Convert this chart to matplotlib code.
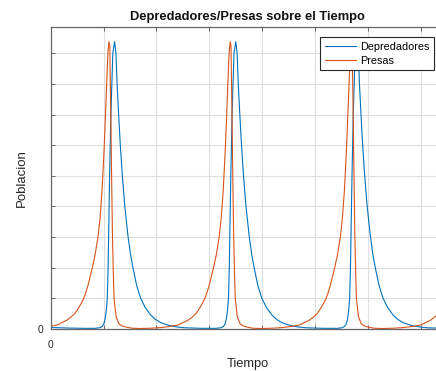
import matplotlib
matplotlib.use('Agg')
import matplotlib.pyplot as plt

plt.rcParams['font.family'] = ['Liberation Sans', 'DejaVu Sans']

# presas (orange)
t_presas = [0.000, 0.119, 0.308, 0.384, 0.459, 0.535, 0.611, 0.658, 0.705, 0.781,
            0.837, 0.894, 0.932, 0.970, 1.008, 1.036, 1.064, 1.083, 1.102, 1.117,
            1.136, 1.151, 1.168, 1.181, 1.197, 1.238, 1.291, 1.348, 1.442, 1.537,
            1.688, 1.877,
            2.070, 2.221, 2.410, 2.599, 2.675, 2.750, 2.826, 2.902, 2.949, 2.996,
            3.072, 3.129, 3.185, 3.223, 3.261, 3.299, 3.327, 3.355, 3.374, 3.393,
            3.408, 3.427, 3.442, 3.459, 3.473, 3.488, 3.529, 3.582, 3.639, 3.733,
            3.828, 3.979, 4.168,
            4.361, 4.512, 4.701, 4.890, 4.966, 5.042, 5.117, 5.193, 5.240, 5.287,
            5.363, 5.420, 5.476, 5.514, 5.552, 5.590, 5.618, 5.647, 5.665, 5.684,
            5.699, 5.718, 5.734, 5.750, 5.764, 5.779, 5.820, 5.873, 5.930, 6.025,
            6.119, 6.270, 6.459,
            6.652, 6.803, 6.992, 7.181, 7.257, 7.333, 7.408]
presas = [0.08, 0.12, 0.28, 0.38, 0.5, 0.7, 0.94, 1.15, 1.42, 1.95,
          2.4, 3.0, 3.6, 4.5, 5.8, 7.0, 8.3, 9.05, 9.38, 9.25,
          7.0, 5.0, 3.0, 2.0, 1.0, 0.38, 0.16, 0.09, 0.045, 0.015,
          0.006, 0.015,
          0.035, 0.065, 0.12, 0.28, 0.38, 0.5, 0.7, 0.94, 1.15, 1.42,
          1.95, 2.4, 3.0, 3.6, 4.5, 5.8, 7.0, 8.3, 9.05, 9.38,
          9.25, 7.0, 5.0, 3.0, 2.0, 1.0, 0.38, 0.16, 0.09, 0.045,
          0.015, 0.006, 0.015,
          0.035, 0.065, 0.12, 0.28, 0.38, 0.5, 0.7, 0.94, 1.15, 1.42,
          1.95, 2.4, 3.0, 3.6, 4.5, 5.8, 7.0, 8.3, 9.05, 9.38,
          9.25, 7.0, 5.0, 3.0, 2.0, 1.0, 0.38, 0.16, 0.09, 0.045,
          0.015, 0.006, 0.015,
          0.035, 0.065, 0.12, 0.28, 0.38, 0.5, 0.7]

# depredadores (blue)
t_depred = [0.000, 0.357, 0.641, 0.830, 0.924, 0.972, 1.000, 1.028, 1.051, 1.070,
            1.085, 1.095, 1.113, 1.138, 1.174, 1.208, 1.233, 1.255, 1.284, 1.316,
            1.354, 1.401, 1.463, 1.507, 1.554, 1.624, 1.699, 1.784, 1.888, 1.983,
            2.078, 2.191, 2.304, 2.418, 2.550, 2.853,
            3.121, 3.216, 3.263, 3.291, 3.319, 3.342, 3.361, 3.376, 3.386, 3.405,
            3.429, 3.465, 3.499, 3.524, 3.546, 3.575, 3.607, 3.645, 3.692, 3.754,
            3.798, 3.845, 3.915, 3.991, 4.076, 4.180, 4.274, 4.369, 4.482, 4.595,
            4.709, 4.841, 5.144,
            5.412, 5.507, 5.554, 5.582, 5.611, 5.633, 5.652, 5.667, 5.677, 5.696,
            5.720, 5.756, 5.790, 5.815, 5.837, 5.866, 5.898, 5.936, 5.983, 6.045,
            6.089, 6.136, 6.206, 6.282, 6.367, 6.471, 6.565, 6.660, 6.773, 6.887,
            7.000, 7.132, 7.435]
depred = [0.04, 0.02, 0.012, 0.012, 0.03, 0.07, 0.14, 0.3, 0.6, 1.0,
          2.0, 3.0, 5.0, 7.0, 9.0, 9.38, 9.0, 8.0, 7.0, 6.0,
          5.0, 4.0, 3.0, 2.45, 2.0, 1.42, 1.0, 0.7, 0.45, 0.3,
          0.2, 0.13, 0.08, 0.05, 0.03, 0.013,
          0.012, 0.03, 0.07, 0.14, 0.3, 0.6, 1.0, 2.0, 3.0, 5.0,
          7.0, 9.0, 9.38, 9.0, 8.0, 7.0, 6.0, 5.0, 4.0, 3.0,
          2.45, 2.0, 1.42, 1.0, 0.7, 0.45, 0.3, 0.2, 0.13, 0.08,
          0.05, 0.03, 0.013,
          0.012, 0.03, 0.07, 0.14, 0.3, 0.6, 1.0, 2.0, 3.0, 5.0,
          7.0, 9.0, 9.38, 9.0, 8.0, 7.0, 6.0, 5.0, 4.0, 3.0,
          2.45, 2.0, 1.42, 1.0, 0.7, 0.45, 0.3, 0.2, 0.13, 0.08,
          0.05, 0.03, 0.013]

x_ticks = [0, 1, 2, 3, 4, 5, 6, 7]
x_labels = ['0', '', '', '', '', '', '', '']
y_ticks = [0, 1, 2, 3, 4, 5, 6, 7, 8, 9]
y_labels = ['0', '', '', '', '', '', '', '', '', '']

fig = plt.figure(figsize=(4.36, 3.71), dpi=100)
ax = fig.add_axes([0.1163, 0.114, 0.902, 0.814])

ax.plot(t_depred, depred, color='#0072BD', lw=0.8, label='Depredadores')
ax.plot(t_presas, presas, color='#D95319', lw=0.8, label='Presas')

ax.set_xlim(0, 7.435)
ax.set_ylim(0, 9.869)
ax.set_xticks(x_ticks)
ax.set_xticklabels(x_labels)
ax.set_yticks(y_ticks)
ax.set_yticklabels(y_labels)
ax.tick_params(direction='in', top=True, right=True, length=3, width=0.6,
               color='#555555', labelsize=7.5, labelcolor='#262626')
ax.tick_params(axis='x', pad=8)
ax.tick_params(axis='y', pad=5)
for s in ax.spines.values():
    s.set_color('#666666')
    s.set_linewidth(0.9)

ax.grid(True, color='#dedede', lw=0.8)
ax.set_axisbelow(True)

ax.set_title('Depredadores/Presas sobre el Tiempo', fontsize=9.3,
             fontweight='bold', color='#111111', pad=5)
ax.set_xlabel('Tiempo', fontsize=9.3, color='#262626', labelpad=6)
ax.set_ylabel('Poblacion', fontsize=9.5, color='#262626', labelpad=7)

leg = ax.legend(loc='upper right', bbox_to_anchor=(0.9753, 0.965),
                borderaxespad=0, fontsize=7.8, fancybox=False,
                handlelength=2.9, handletextpad=0.4, borderpad=0.4,
                labelspacing=0.4, framealpha=1)
leg.get_frame().set_edgecolor('#262626')
leg.get_frame().set_linewidth(0.8)

plt.savefig('out.png', dpi=100)
plt.close()
